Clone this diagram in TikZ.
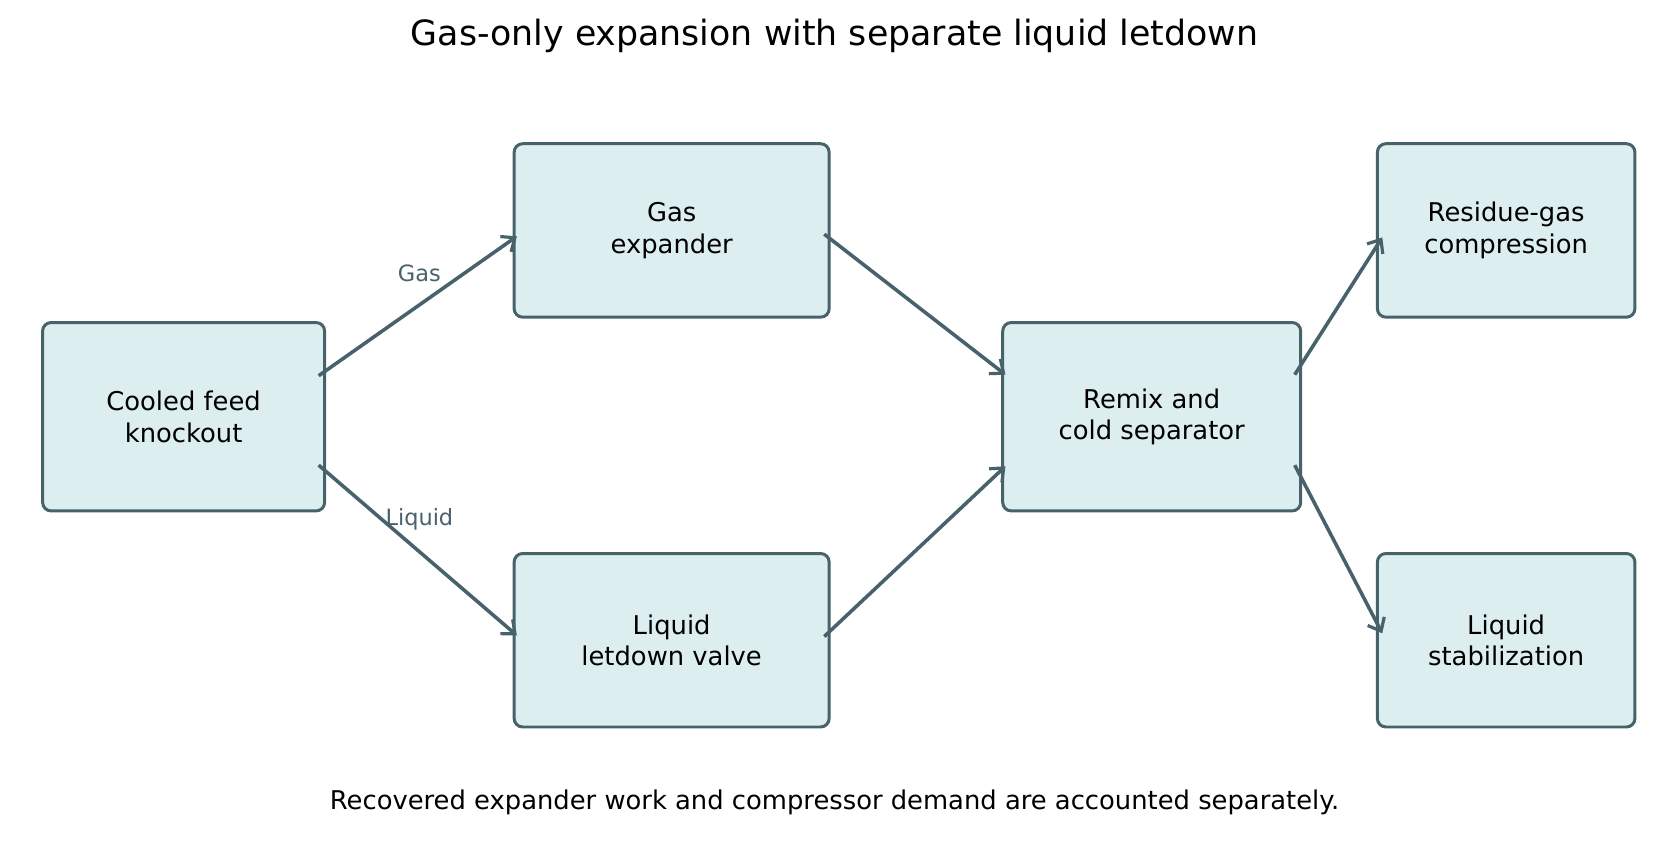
\documentclass[tikz,border=0pt]{standalone}
\usepackage{fontspec}
\setmainfont{DejaVu Sans}
\usetikzlibrary{arrows.meta,calc}
\definecolor{bd}{HTML}{47626B}
\definecolor{fl}{HTML}{DDEEF0}
\begin{document}
\begin{tikzpicture}[x=0.02cm,y=-0.02cm,
 box/.style={draw=bd,fill=fl,line width=1.6pt,rounded corners=0.16cm,align=center,font=\fontsize{13.8}{16.8}\selectfont,inner sep=0pt},
 arr/.style={draw=bd,line width=1.9pt,-{Straight Barb[length=6pt,width=10pt,line width=1.7pt]}},
 lab/.style={text=bd,font=\fontsize{12}{14}\selectfont}]
\useasboundingbox (0,0) rectangle (1568,796);
\node[font=\fontsize{18.6}{22}\selectfont] (t) at (784,34) {Gas-only expansion with separate liquid letdown};
\node[box,minimum width=5.3cm,minimum height=3.54cm] (A) at (172.5,391.5) {Cooled feed\\knockout};
\node[box,minimum width=5.92cm,minimum height=3.26cm] (B) at (631,216.5) {Gas\\expander};
\node[box,minimum width=5.92cm,minimum height=3.26cm] (C) at (631,601.5) {Liquid\\letdown valve};
\node[box,minimum width=5.6cm,minimum height=3.54cm] (D) at (1082,391.5) {Remix and\\cold separator};
\node[box,minimum width=4.84cm,minimum height=3.26cm] (E) at (1415,216.5) {Residue-gas\\compression};
\node[box,minimum width=4.84cm,minimum height=3.26cm] (F) at (1415,601.5) {Liquid\\stabilization};
\draw[arr] ($(A.east)+(-7,-38.5)$) -- ($(B.west)+(4,5.5)$);
\draw[arr] ($(A.east)+(-7,45.5)$) -- ($(C.west)+(4,-4.5)$);
\draw[arr] ($(B.east)+(-6,3.5)$) -- ($(D.west)+(4,-39.5)$);
\draw[arr] ($(C.east)+(-6,-3.5)$) -- ($(D.west)+(4,46.5)$);
\draw[arr] ($(D.east)+(-7,-39.5)$) -- ($(E.west)+(6,6.5)$);
\draw[arr] ($(D.east)+(-7,45.5)$) -- ($(F.west)+(6,-6.5)$);
\node[lab] (g) at (394,257) {Gas};
\node[lab] (l) at (394,488) {Liquid};
\node[font=\fontsize{13.8}{16}\selectfont] (f) at (784,754) {Recovered expander work and compressor demand are accounted separately.};
\end{tikzpicture}
\end{document}
